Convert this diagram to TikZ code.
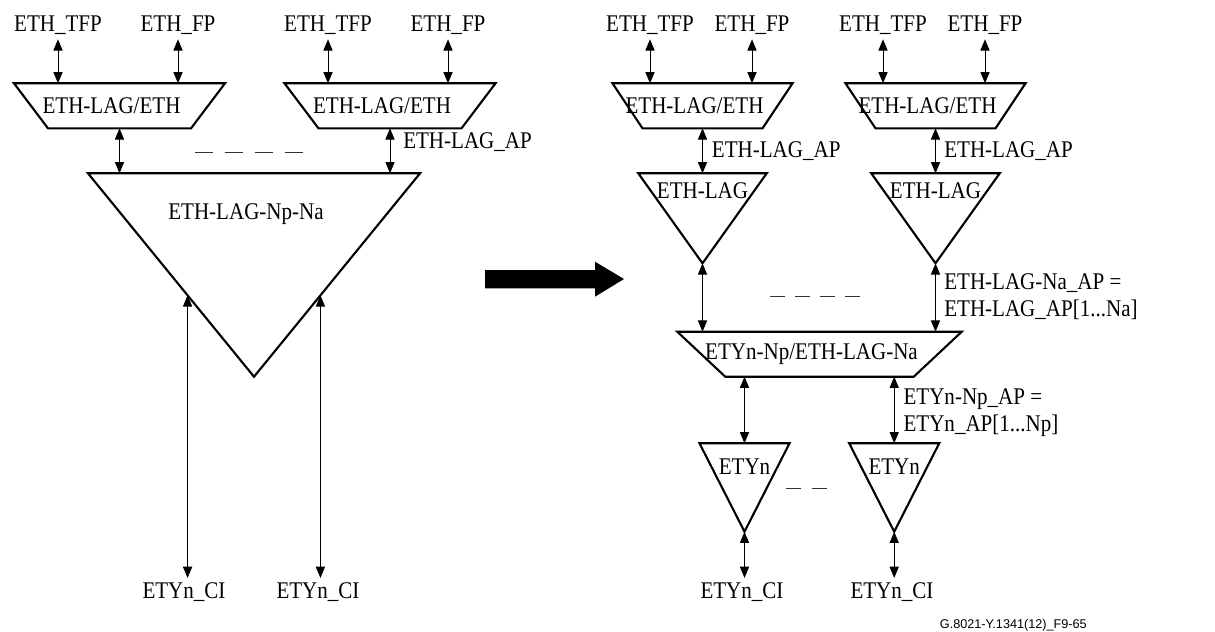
\documentclass[tikz,border=0pt]{standalone}
\usepackage{fontspec}
\setmainfont[FakeStretch=0.88]{Liberation Serif}
\newfontfamily\figfont{Liberation Sans}
\usetikzlibrary{positioning, calc, arrows.meta}

\begin{document}
\begin{tikzpicture}[
        x=0.025cm, y=-0.025cm,
        >={Triangle[length=8pt, width=6.5pt]}, % Arrowhead style
        font=\fontsize{17}{19.5}\selectfont,
        adapt/.style={rectangle, minimum width=#1, minimum height=1.125cm, inner sep=0pt, outer sep=0pt, lean},
        termbox/.style n args={3}{rectangle, minimum width=#1, text height=#2, text depth=#3, inner sep=0pt, outer sep=0pt},
        lean/.style={execute at begin node={\hspace*{-0.4cm}}},
        port/.style={inner sep=3pt, anchor=base},
        apnote/.style={inner sep=0pt, anchor=base west, align=left},
        link/.style={<->, line width=0.7pt},
        outline/.style={line width=1.5pt, line join=miter},
        gap/.style={line width=0.6pt, black!80}
    ]
    \useasboundingbox (0,0) rectangle (1215,631);

    % ==========================================
    % 1. ADAPTATION FUNCTIONS
    % ==========================================
    \node[adapt=5.275cm] (adL1)  at (119.5,105.8) {ETH-LAG/ETH};
    \node[adapt=5.275cm] (adL2)  at (390,105.8)   {ETH-LAG/ETH};
    \node[adapt=4.5cm]   (adR1)  at (702.5,105.8) {ETH-LAG/ETH};
    \node[adapt=4.5cm]   (adR2)  at (935.5,105.8) {ETH-LAG/ETH};
    \node[adapt=7.11cm]  (adBig) at (819.5,354.2) {ETYn-Np/ETH-LAG-Na};

    % ==========================================
    % 2. TERMINATION FUNCTIONS
    % ==========================================
    \node[termbox={8.3cm}{1.15cm}{3.935cm}, lean] (bigL)  at (254,275)     {ETH-LAG-Np-Na};
    \node[termbox={3.21cm}{0.625cm}{1.625cm}]     (lagR1) at (702.5,218.3) {ETH-LAG};
    \node[termbox={3.21cm}{0.625cm}{1.625cm}]     (lagR2) at (935.5,218.3) {ETH-LAG};
    \node[termbox={2.25cm}{0.79cm}{1.42cm}]       (etyR1) at (744.5,487.5) {ETYn};
    \node[termbox={2.25cm}{0.79cm}{1.42cm}]       (etyR2) at (894.2,487.5) {ETYn};

    \foreach \t/\s in {adL1/34, adL2/34, adR1/30, adR2/30, adBig/48}
        \draw[outline] (\t.north west) -- (\t.north east) -- ($(\t.south east)+(-\s,0)$) -- ($(\t.south west)+(\s,0)$) -- cycle;
    \foreach \t in {bigL, lagR1, lagR2, etyR1, etyR2}
        \draw[outline] (\t.north west) -- (\t.north east) -- (\t.south) -- cycle;

    % ==========================================
    % 3. POINTS
    % ==========================================
    \node[port] (tfpL1) at (58,31.7)  {ETH\_TFP};
    \node[port] (fpL1)  at (178,31.7) {ETH\_FP};
    \node[port] (tfpL2) at (328,31.7) {ETH\_TFP};
    \node[port] (fpL2)  at (448,31.7) {ETH\_FP};
    \node[port] (tfpR1) at (650,31.7) {ETH\_TFP};
    \node[port] (fpR1)  at (752,31.7) {ETH\_FP};
    \node[port] (tfpR2) at (883,31.7) {ETH\_TFP};
    \node[port] (fpR2)  at (985,31.7) {ETH\_FP};

    \node[port] (ciL1) at (184,598.3) {ETYn\_CI};
    \node[port] (ciL2) at (318,598.3) {ETYn\_CI};
    \node[port] (ciR1) at (742,598.3) {ETYn\_CI};
    \node[port] (ciR2) at (892,598.3) {ETYn\_CI};

    \node[apnote] (apL)  at (403,148.3)   {ETH-LAG\_AP};
    \node[apnote] (apR1) at (711.7,157.3) {ETH-LAG\_AP};
    \node[apnote] (apR2) at (944,157.3)   {ETH-LAG\_AP};
    \node[apnote] (naAP) at (944,316.7)   {ETH-LAG-Na\_AP =\\ETH-LAG\_AP[1...Na]};
    \node[apnote] (npAP) at (903.3,431.7) {ETYn-Np\_AP =\\ETYn\_AP[1...Np]};

    % ==========================================
    % 4. CONNECTIONS
    % ==========================================
    \foreach \p/\a in {tfpL1/adL1, fpL1/adL1, tfpL2/adL2, fpL2/adL2, tfpR1/adR1, fpR1/adR1, tfpR2/adR2, fpR2/adR2}
        \draw[link] (\p.south) -- (\p.south |- \a.north);

    % before
    \draw[link] (adL1.south) -- (adL1.south |- bigL.north);
    \draw[link] (adL2.south) -- (adL2.south |- bigL.north);
    \coordinate (inL1) at ($(bigL.north west)!0.6!(bigL.south)$);
    \coordinate (inL2) at ($(bigL.north east)!0.6!(bigL.south)$);
    \draw[link] (inL1) -- (inL1 |- ciL1.north);
    \draw[link] (inL2) -- (inL2 |- ciL2.north);

    % after
    \draw[link] (adR1.south) -- (adR1.south |- lagR1.north);
    \draw[link] (adR2.south) -- (adR2.south |- lagR2.north);
    \draw[link] (lagR1.south) -- (lagR1.south |- adBig.north);
    \draw[link] (lagR2.south) -- (lagR2.south |- adBig.north);
    \draw[link] (etyR1.north |- adBig.south) -- (etyR1.north);
    \draw[link] (etyR2.north |- adBig.south) -- (etyR2.north);
    \draw[link] (etyR1.south) -- (etyR1.south |- ciR1.north);
    \draw[link] (etyR2.south) -- (etyR2.south |- ciR2.north);

    % repetition marks
    \draw[gap, dash pattern=on 12.8pt off 8.5pt] (195,152.7) -- (303,152.7);
    \draw[gap, dash pattern=on 10.7pt off 7.1pt] (770,296.7) -- (860,296.7);
    \draw[gap, dash pattern=on 10.7pt off 7.8pt] (785.7,488.3) -- (826.7,488.3);

    % transformation arrow
    \fill (485,270) -- (595,270) -- (595,261.7) -- (624,279) -- (595,296.7) -- (595,288.3) -- (485,288.3) -- cycle;

    \node[anchor=base east, inner sep=0pt, font=\figfont\fontsize{9}{11}\selectfont] (figid) at (1087,628) {G.8021-Y.1341(12)\_F9-65};
\end{tikzpicture}
\end{document}
